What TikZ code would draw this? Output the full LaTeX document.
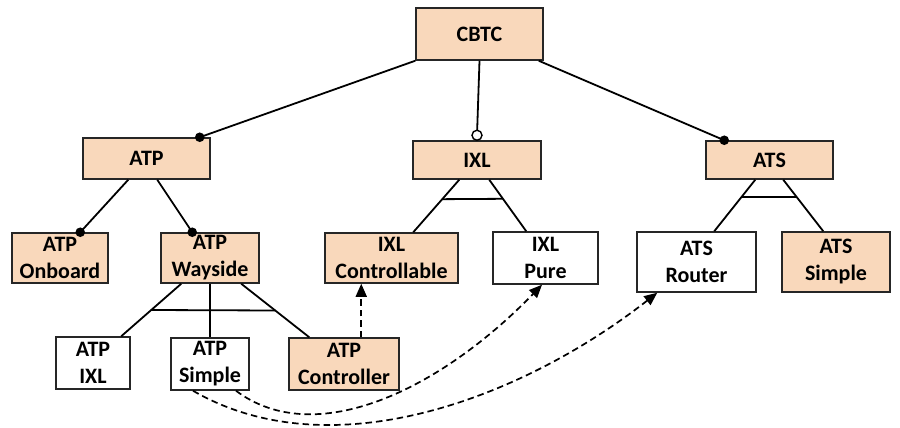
\documentclass[tikz,border=0pt]{standalone}
\usepackage{fontspec}
\setmainfont{Carlito}
\usetikzlibrary{arrows.meta,calc}
\definecolor{peach}{HTML}{F9D8BB}
\begin{document}
\begin{tikzpicture}[x=1pt,y=-1pt,
  box/.style={draw=black!85,line width=1.5pt,align=center,inner sep=0pt,
    font=\fontsize{22}{27}\selectfont\bfseries},
  feat/.style={box,fill=peach},
  plainbox/.style={box,fill=white},
  link/.style={line width=1.8pt},
  dep/.style={line width=1.7pt,dash pattern=on 6.5pt off 4pt,-{Triangle[length=13pt,width=11pt]}},
  dotfill/.style={fill=black},
]
\useasboundingbox (0,0) rectangle (900,428);
% nodes
\node[feat,minimum width=127pt,minimum height=52pt] (cbtc) at (479.5,34) {CBTC};
\node[feat,minimum width=127pt,minimum height=41pt] (atp) at (146.5,158.5) {ATP};
\node[feat,minimum width=128pt,minimum height=38pt] (ixl) at (477,160) {IXL};
\node[feat,minimum width=127pt,minimum height=38pt] (ats) at (769.5,160) {ATS};
\node[feat,minimum width=96pt,minimum height=50pt] (onb) at (60,258) {ATP\\Onboard};
\node[feat,minimum width=98pt,minimum height=50pt] (way) at (210,258) {ATP\\Wayside};
\node[feat,minimum width=133pt,minimum height=50pt] (ctrl) at (391.5,258) {IXL\\Controllable};
\node[plainbox,minimum width=105pt,minimum height=52pt] (pure) at (545.5,258) {IXL\\Pure};
\node[plainbox,minimum width=119pt,minimum height=60pt] (router) at (696.5,262) {ATS\\Router};
\node[feat,minimum width=108pt,minimum height=60pt] (asimple) at (836,262) {ATS\\Simple};
\node[plainbox,minimum width=74pt,minimum height=52pt] (apixl) at (93,363) {ATP\\IXL};
\node[plainbox,minimum width=78pt,minimum height=52pt] (apsimple) at (210,364) {ATP\\Simple};
\node[feat,minimum width=110pt,minimum height=52pt] (apctrl) at (344,364) {ATP\\Controller};
% CBTC children
\draw[link] (cbtc.south west) -- ([xshift=-11pt]atp.north east);
\fill[dotfill] ([xshift=-11pt]atp.north east) circle (4.8pt);
\draw[link] (cbtc.south) -- ([yshift=5pt]ixl.north);
\filldraw[fill=white,line width=1.4pt] ([yshift=5pt]ixl.north) circle (5pt);
\draw[link] ([xshift=-5pt]cbtc.south east) -- ([xshift=19pt]ats.north west);
\fill[dotfill] ([xshift=19pt]ats.north west) circle (4.8pt);
% ATP children
\draw[link] ([xshift=46pt]atp.south west) -- ([xshift=69pt]onb.north west);
\fill[dotfill] ([xshift=69pt]onb.north west) circle (4.8pt);
\draw[link] ([xshift=75pt]atp.south west) -- ([xshift=32pt]way.north west);
\fill[dotfill] ([xshift=32pt]way.north west) circle (4.8pt);
% IXL alternatives
\coordinate (ia) at ([xshift=47pt]ixl.south west);
\coordinate (ib) at ([xshift=89pt]ctrl.north west);
\coordinate (ic) at ([xshift=77pt]ixl.south west);
\coordinate (id) at ([xshift=34pt]pure.north west);
\draw[link] (ia) -- (ib);
\draw[link] (ic) -- (id);
\draw[link] ($(ia)!0.37!(ib)$) -- ($(ic)!0.37!(id)$);
% ATS alternatives
\coordinate (sa) at ([xshift=50pt]ats.south west);
\coordinate (sb) at ([xshift=78pt]router.north west);
\coordinate (sc) at ([xshift=78pt]ats.south west);
\coordinate (sd) at ([xshift=42pt]asimple.north west);
\draw[link] (sa) -- (sb);
\draw[link] (sc) -- (sd);
\draw[link] ($(sa)!0.34!(sb)$) -- ($(sc)!0.34!(sd)$);
% Wayside alternatives
\coordinate (wa) at ([xshift=21pt]way.south west);
\coordinate (wb) at ([xshift=66pt]apixl.north west);
\coordinate (wc) at ([xshift=81pt]way.south west);
\coordinate (wd) at ([xshift=21pt]apctrl.north west);
\draw[link] (wa) -- (wb);
\draw[link] (way.south) -- (apsimple.north);
\draw[link] (wc) -- (wd);
\draw[link] ($(wa)!0.5!(wb)$) -- ($(wc)!0.5!(wd)$);
% dependencies
\coordinate (da) at ([xshift=73pt]apctrl.north west);
\draw[dep] (da) -- (da |- ctrl.south);
\draw[dep] ([xshift=26pt]apsimple.south) .. controls (315,450) and (440,390) .. ([xshift=-3.5pt]pure.south);
\draw[dep] ([xshift=-17pt]apsimple.south) .. controls (330,470) and (520,400) .. ([xshift=21pt]router.south west);
\end{tikzpicture}
\end{document}
